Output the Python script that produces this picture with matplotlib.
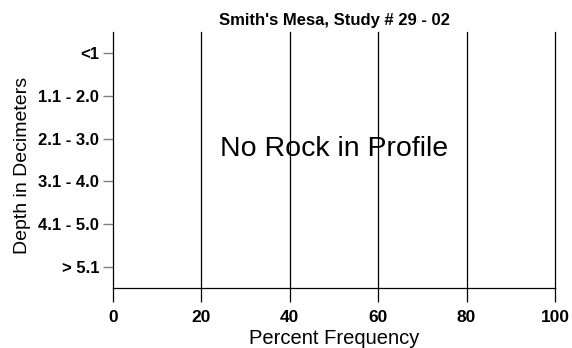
import matplotlib.pyplot as plt

plt.rcParams['font.family'] = ['Liberation Sans', 'DejaVu Sans']

# depth classes and rock frequency (no rock found in this profile)
depths = ['<1', '1.1 - 2.0', '2.1 - 3.0', '3.1 - 4.0', '4.1 - 5.0', '> 5.1']
freq = [0, 0, 0, 0, 0, 0]
xticks = [0, 20, 40, 60, 80, 100]

fig = plt.figure(figsize=(5.72, 3.48), dpi=100)
ax = fig.add_axes([0.1976, 0.1724, 0.7727, 0.7356])

ax.barh(range(len(depths)), freq, color='gray')
ax.set_xlim(0, 100)
ax.set_ylim(len(depths) - 0.5, -0.5)

for x in xticks[1:]:
    ax.axvline(x, color='black', lw=0.9, zorder=0, clip_on=False)

ax.set_xticks(xticks)
ax.set_xticklabels([str(x) for x in xticks], fontweight='bold', fontsize=12.5)
ax.set_yticks(range(len(depths)))
ax.set_yticklabels(depths, fontweight='bold', fontsize=12)
ax.tick_params(axis='x', length=10, width=0.9, color='black', pad=6)
ax.tick_params(axis='y', length=7, width=1, color='gray', pad=3)

ax.spines['top'].set_visible(False)
ax.spines['right'].set_visible(False)
ax.spines['left'].set_linewidth(0.9)
ax.spines['bottom'].set_linewidth(0.9)

ax.set_title("Smith's Mesa, Study # 29 - 02", fontweight='bold', fontsize=12, pad=5)
ax.set_xlabel('Percent Frequency', fontsize=14.5, labelpad=3)
ax.set_ylabel('Depth in Decimeters', fontsize=14)
ax.yaxis.set_label_coords(-0.185, 0.48)
ax.text(50, 2.25, 'No Rock in Profile', ha='center', va='center', fontsize=20.5)

fig.savefig('out.png', dpi=100)
